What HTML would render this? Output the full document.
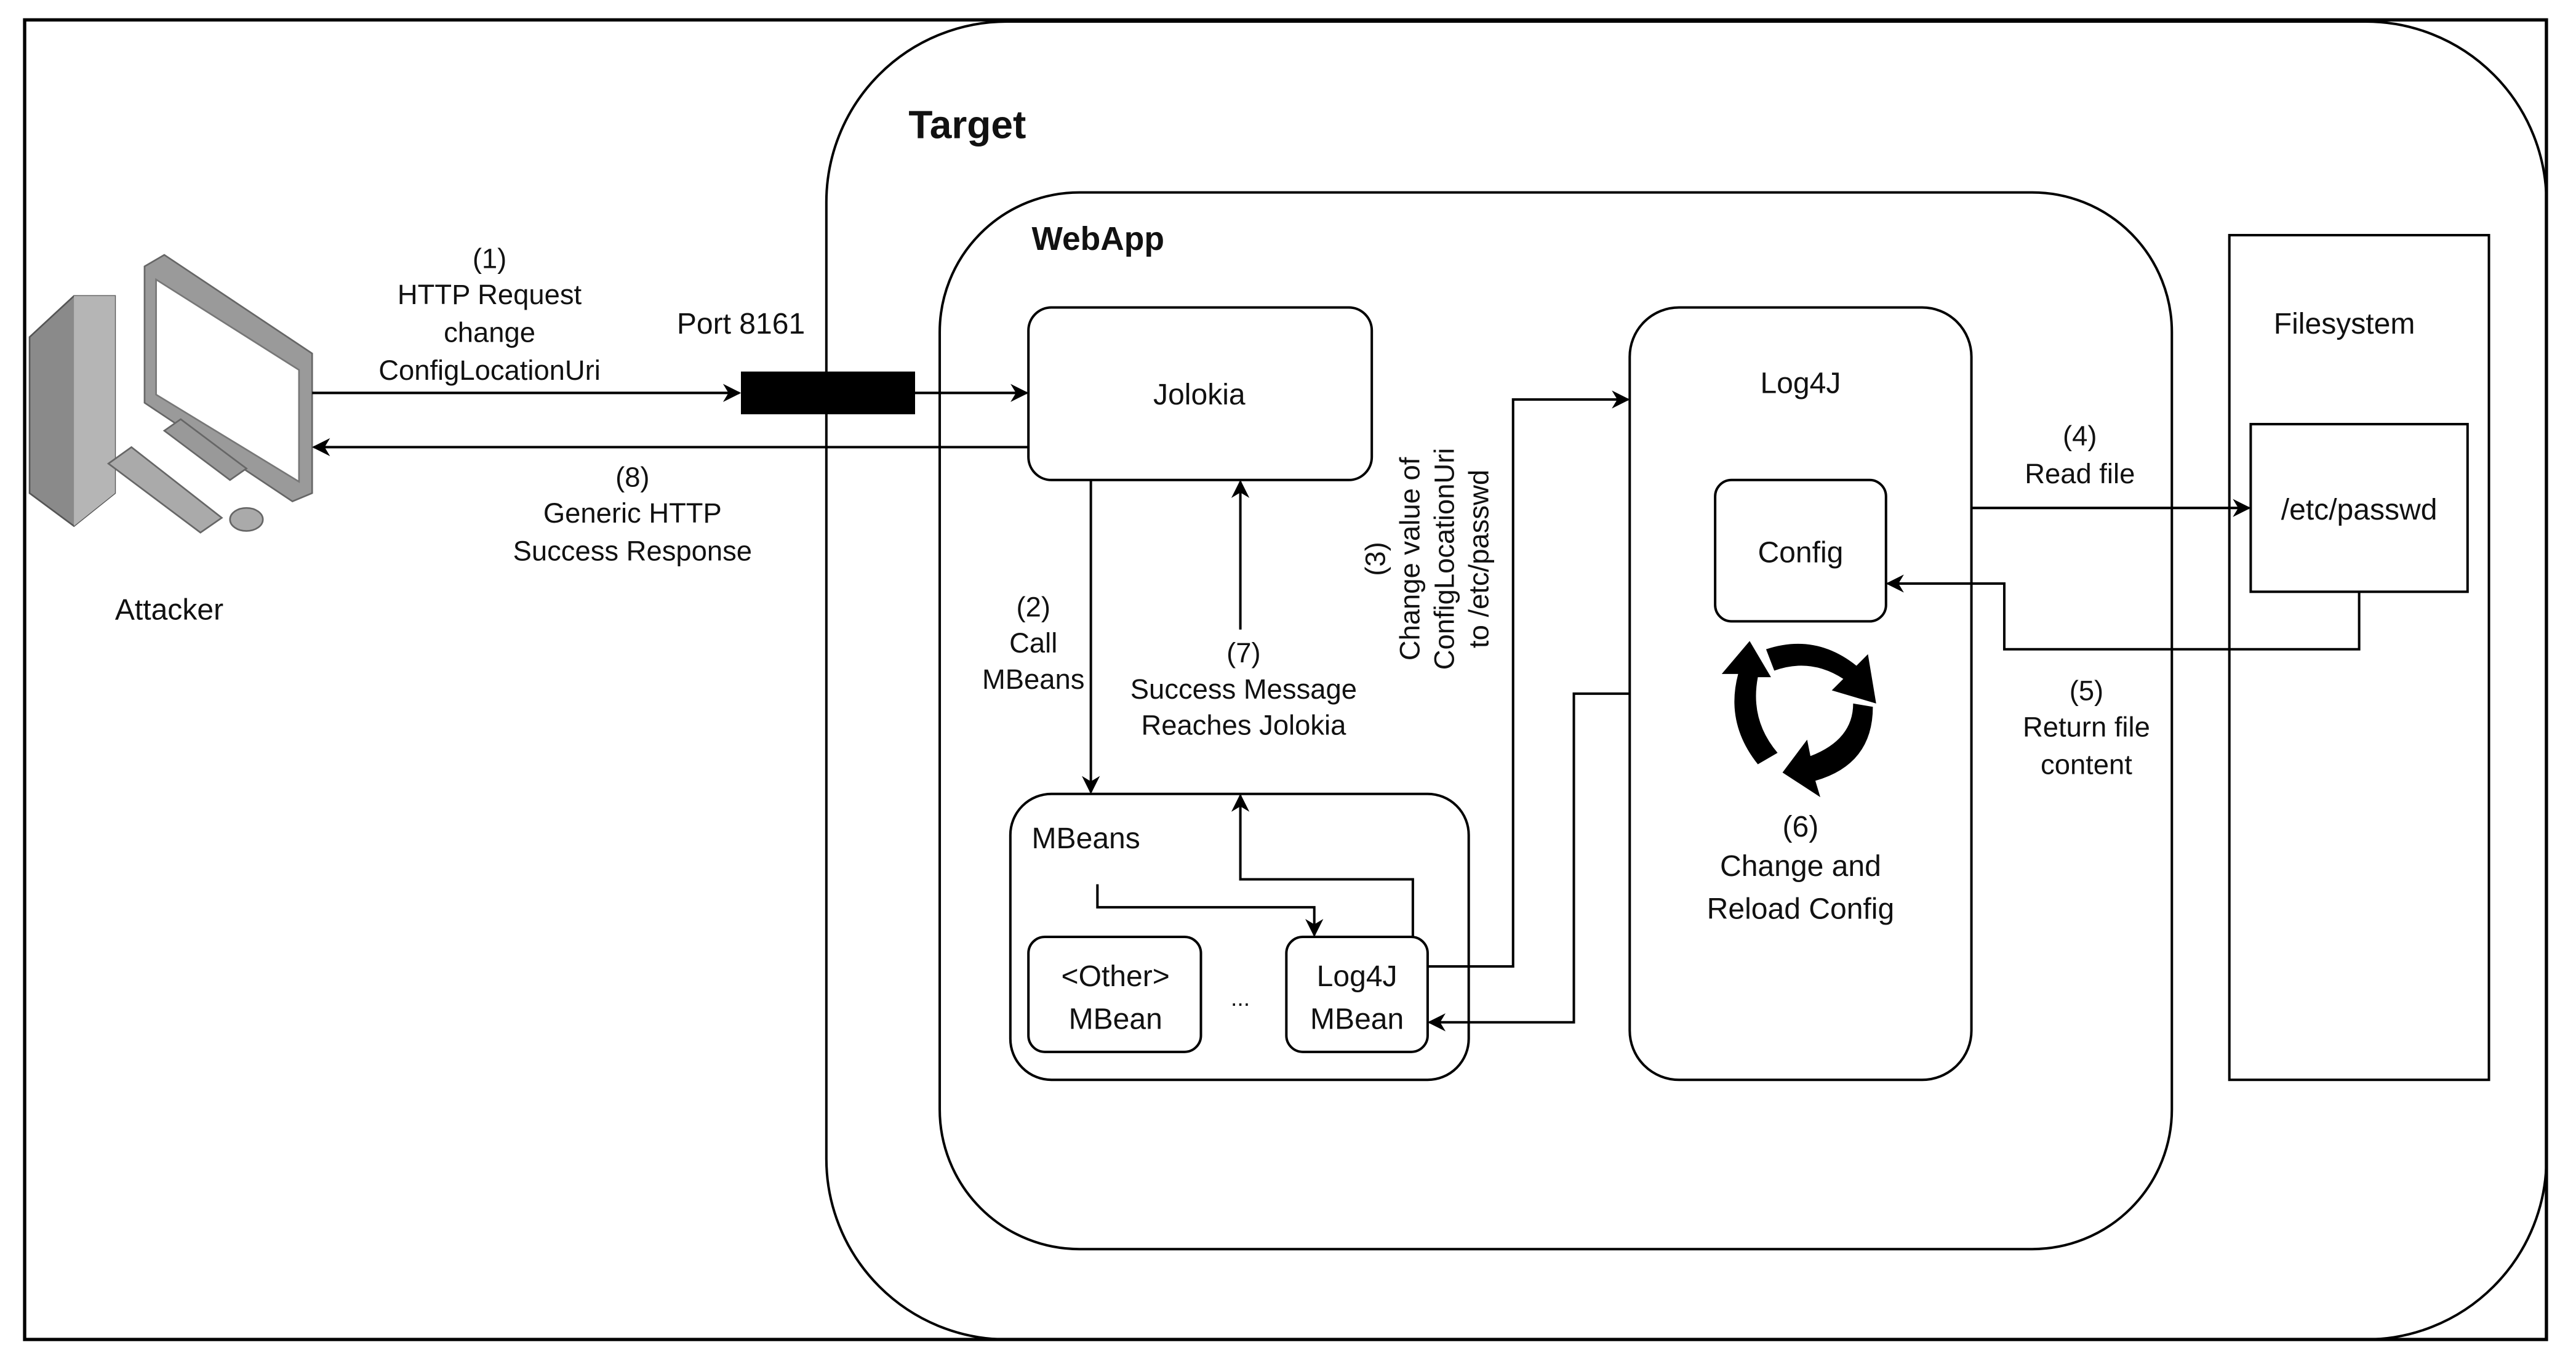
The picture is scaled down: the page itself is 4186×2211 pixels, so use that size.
<!DOCTYPE html>
<html><head><meta charset="utf-8"><style>
html,body{margin:0;padding:0;background:#fff}
svg{display:block}
text{font-family:"Liberation Sans",sans-serif;fill:#111}
</style></head><body>
<svg width="4186" height="2211" viewBox="0 0 1568 828" xmlns="http://www.w3.org/2000/svg">
<defs>
<marker id="a" viewBox="0 0 10 10" refX="9" refY="5" markerWidth="11" markerHeight="11" orient="auto" markerUnits="userSpaceOnUse"><path d="M0,0 L10,5 L0,10 L3,5 z" fill="#000"/></marker>
</defs>
<rect x="0" y="0" width="1568" height="828" fill="#fff"/>
<rect x="15" y="12" width="1535" height="803" fill="none" stroke="#000" stroke-width="2"/>
<rect x="503" y="13" width="1047" height="802" rx="110" fill="none" stroke="#000" stroke-width="1.5"/>
<text x="553" y="84" font-size="24" font-weight="bold">Target</text>
<rect x="572" y="117" width="750" height="643" rx="85" fill="none" stroke="#000" stroke-width="1.5"/>
<text x="628" y="152" font-size="20" font-weight="bold">WebApp</text>

<g fill="#fff" stroke="#000" stroke-width="1.5">
<rect x="626" y="187" width="209" height="105" rx="14"/>
<rect x="992" y="187" width="208" height="470" rx="30"/>
<rect x="1044" y="292" width="104" height="86" rx="10"/>
<rect x="1357" y="143" width="158" height="514" rx="0"/>
<rect x="1370" y="258" width="132" height="102"/>
<rect x="615" y="483" width="279" height="174" rx="25"/>
<rect x="626" y="570" width="105" height="70" rx="10"/>
<rect x="783" y="570" width="86" height="70" rx="10"/>
</g>
<g font-size="18" text-anchor="middle">
<text x="730" y="246">Jolokia</text>
<text x="1096" y="239">Log4J</text>
<text x="1096" y="342">Config</text>
<text x="1427" y="203">Filesystem</text>
<text x="1436" y="316">/etc/passwd</text>
<text x="679" y="600">&lt;Other&gt;</text>
<text x="679" y="626">MBean</text>
<text x="826" y="600">Log4J</text>
<text x="826" y="626">MBean</text>
<text x="755" y="612" font-size="14">...</text>
<text x="451" y="203">Port 8161</text>
<text x="103" y="377">Attacker</text>
<text x="1096" y="509">(6)</text>
<text x="1096" y="533">Change and</text>
<text x="1096" y="559">Reload Config</text>
</g>
<text x="628" y="516" font-size="18">MBeans</text>

<rect x="451" y="226" width="106" height="26" fill="#000"/>

<g>
<polygon points="18,205 45,180 70,180 70,300 45,320 18,300" fill="#8a8a8a" stroke="#555"/>
<polygon points="45,180 70,180 70,300 45,320" fill="#b5b5b5"/>
<polygon points="88,162 100,155 190,215 190,300 178,305 88,245" fill="#9a9a9a" stroke="#666"/>
<polygon points="95,170 182,225 182,293 95,240" fill="#fff" stroke="#777"/>
<polygon points="100,262 110,255 150,285 140,292" fill="#999" stroke="#666"/>
<polygon points="66,282 80,272 135,315 122,324" fill="#aaa" stroke="#666"/>
<ellipse cx="150" cy="316" rx="10" ry="7" fill="#aaa" stroke="#666"/>
</g>

<g font-size="17" text-anchor="middle">
<text x="298" y="163">(1)</text>
<text x="298" y="185">HTTP Request</text>
<text x="298" y="208">change</text>
<text x="298" y="231">ConfigLocationUri</text>
<text x="385" y="296">(8)</text>
<text x="385" y="318">Generic HTTP</text>
<text x="385" y="341">Success Response</text>
<text x="629" y="375">(2)</text>
<text x="629" y="397">Call</text>
<text x="629" y="419">MBeans</text>
<text x="757" y="403">(7)</text>
<text x="757" y="425">Success Message</text>
<text x="757" y="447">Reaches Jolokia</text>
<text x="1266" y="271">(4)</text>
<text x="1266" y="294">Read file</text>
<text x="1270" y="426">(5)</text>
<text x="1270" y="448">Return file</text>
<text x="1270" y="471">content</text>
<g transform="translate(843,340) rotate(-90)">
<text x="0" y="0">(3)</text>
<text x="0" y="21">Change value of</text>
<text x="0" y="42">ConfigLocationUri</text>
<text x="0" y="63">to /etc/passwd</text>
</g>
</g>

<g fill="none" stroke="#000" stroke-width="1.5">
<line x1="190" y1="239" x2="450" y2="239" marker-end="url(#a)"/>
<line x1="557" y1="239" x2="625" y2="239" marker-end="url(#a)"/>
<line x1="626" y1="272" x2="191" y2="272" marker-end="url(#a)"/>
<line x1="664" y1="292" x2="664" y2="482" marker-end="url(#a)"/>
<line x1="755" y1="383" x2="755" y2="293" marker-end="url(#a)"/>
<polyline points="860,570 860,535 755,535 755,484" marker-end="url(#a)"/>
<polyline points="668,538 668,552 800,552 800,569" marker-end="url(#a)"/>
<polyline points="869,588 921,588 921,243 991,243" marker-end="url(#a)"/>
<polyline points="992,422 958,422 958,622 870,622" marker-end="url(#a)"/>
<line x1="1200" y1="309" x2="1369" y2="309" marker-end="url(#a)"/>
<polyline points="1436,360 1436,395 1220,395 1220,355 1149,355" marker-end="url(#a)"/>
</g>

<g fill="#000">
<path d="M1075,395 Q1105,385 1130,405 L1137,398 L1142,428 L1115,420 L1122,413 Q1102,400 1080,408 Z"/>
<path d="M1140,430 Q1140,465 1105,475 L1108,485 L1085,470 L1100,450 L1102,460 Q1128,450 1128,428 Z"/>
<path d="M1070,465 Q1050,440 1058,410 L1048,410 L1065,390 L1078,412 L1070,412 Q1065,438 1082,458 Z"/>
</g>
</svg>
</body></html>
